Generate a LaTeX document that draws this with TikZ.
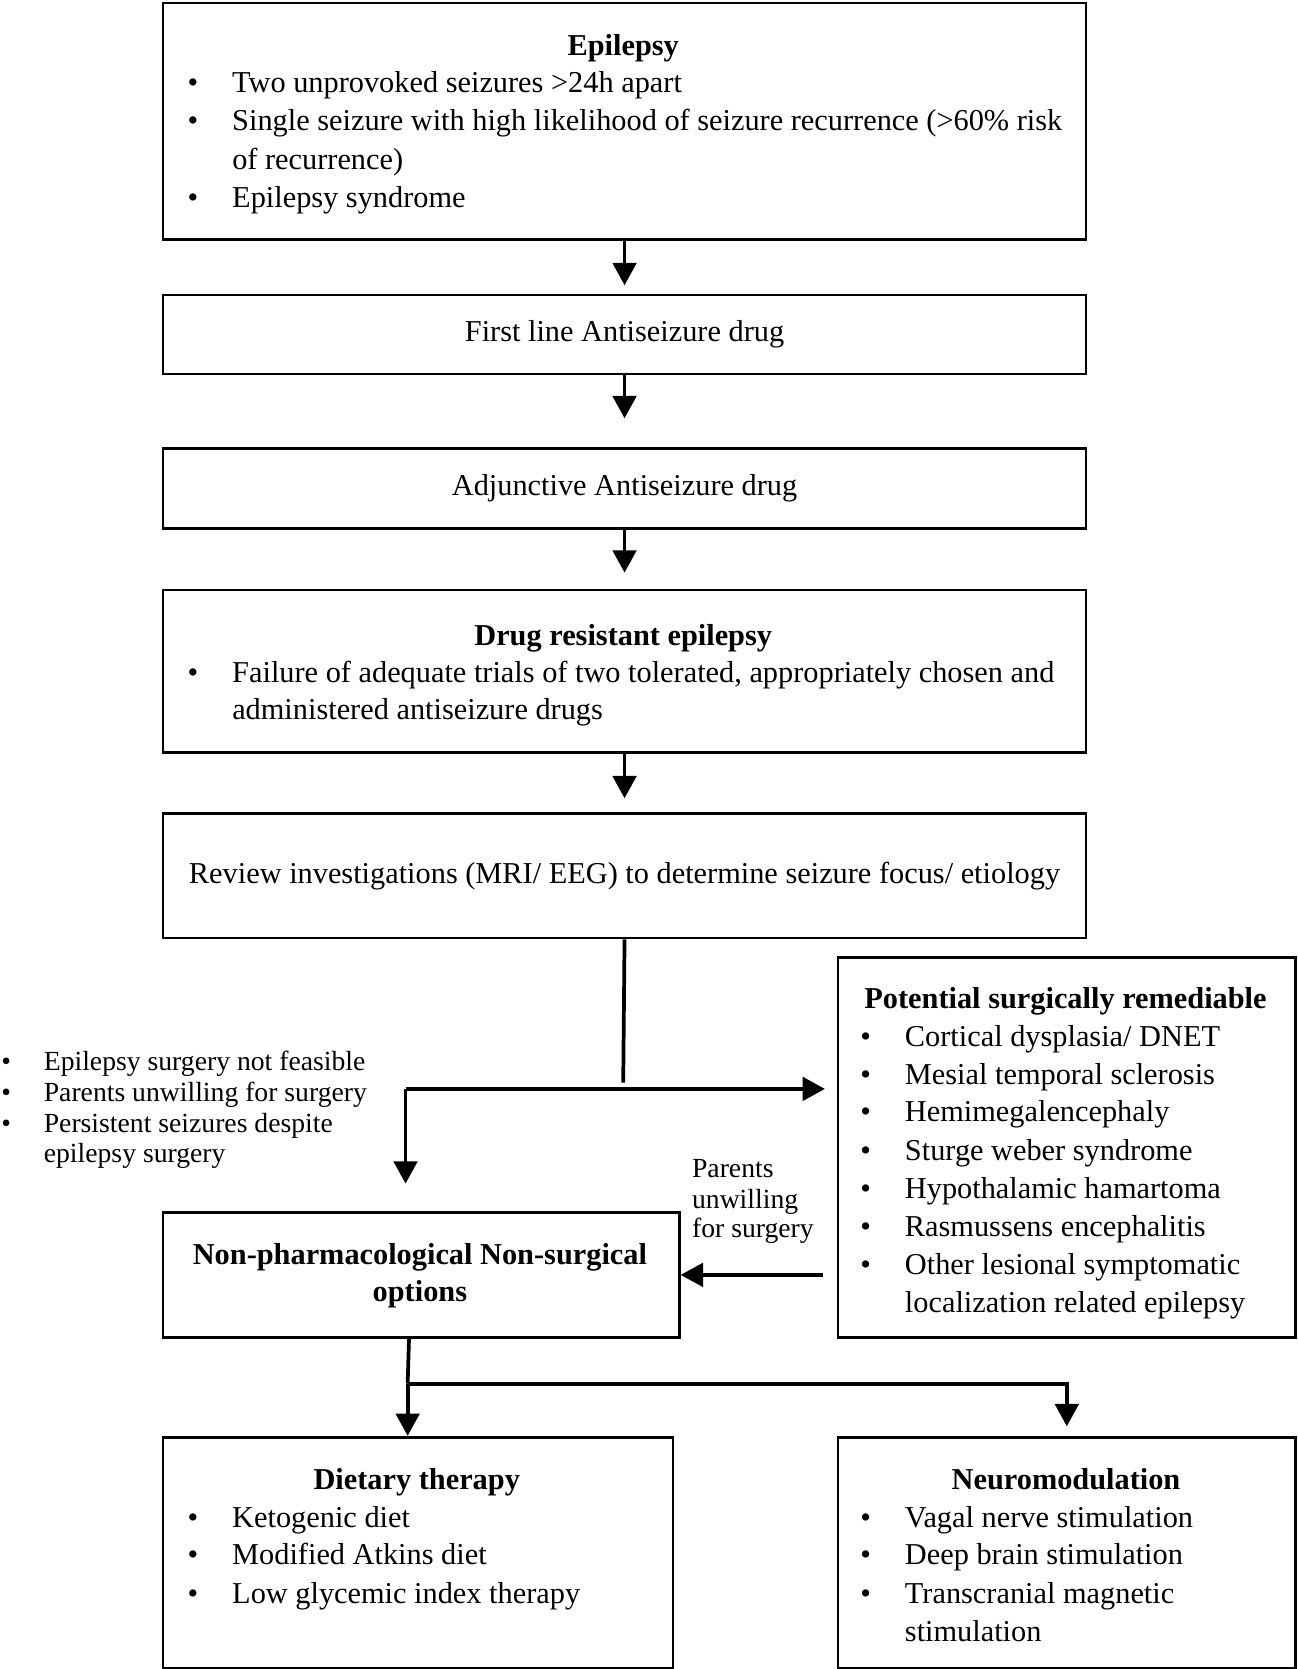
\documentclass[tikz,border=0pt]{standalone}
\usepackage{fontspec}
\setmainfont{Liberation Serif}
\usetikzlibrary{arrows.meta}
\newcommand{\mybul}[1]{\makebox[#1][l]{•}}
\begin{document}
\begin{tikzpicture}[x=1pt,y=-1pt,
  box/.style={draw, line width=2.5pt, inner sep=0pt, anchor=north west},
  arr/.style={line width=3.5pt, line join=miter, -{Triangle[length=21pt,width=22pt]}},
  ln/.style={line width=3.5pt},
  tx/.style={anchor=base west, inner sep=0pt, font=\fontsize{28.5}{33}\selectfont},
  ctx/.style={anchor=center, inner sep=0pt, font=\fontsize{28.5}{33}\selectfont},
  ttl/.style={anchor=base, inner sep=0pt, font=\fontsize{28.5}{33}\selectfont\bfseries},
  sm/.style={anchor=base west, inner sep=0pt, font=\fontsize{26}{30}\selectfont},
]
\useasboundingbox (0,0) rectangle (1219,1568);

% boxes
\node[box, minimum width=867pt, minimum height=222.5pt] (ep) at (152,1.5) {};
\node[box, minimum width=867pt, minimum height=74pt] (fl) at (152,276) {};
\node[box, minimum width=867pt, minimum height=75pt] (adj) at (152,420) {};
\node[box, minimum width=867pt, minimum height=153pt] (dre) at (152,553) {};
\node[box, minimum width=867pt, minimum height=117pt] (rev) at (152,763) {};
\node[box, minimum width=430pt, minimum height=357pt] (psr) at (786,898) {};
\node[box, minimum width=485pt, minimum height=117pt] (npns) at (152,1138) {};
\node[box, minimum width=479pt, minimum height=217pt] (diet) at (152,1349) {};
\node[box, minimum width=430pt, minimum height=217pt] (neu) at (786,1349) {};

% Epilepsy
\node[ttl] (ept) at (585.5,52) {Epilepsy};
\node[tx] (ep1) at (176,87) {\mybul{42pt}Two unprovoked seizures >24h apart};
\node[tx] (ep2) at (176,123) {\mybul{42pt}Single seizure with high likelihood of seizure recurrence (>60\% risk};
\node[tx] (ep3) at (218,159) {of recurrence)};
\node[tx] (ep4) at (176,195) {\mybul{42pt}Epilepsy syndrome};

% single line boxes
\node[ctx] (flt) at (fl.center) {First line Antiseizure drug};
\node[ctx] (adjt) at (adj.center) {Adjunctive Antiseizure drug};
\node[ctx] (revt) at (rev.center) {Review investigations (MRI/ EEG) to determine seizure focus/ etiology};

% Drug resistant
\node[ttl] (dret) at (585.5,606) {Drug resistant epilepsy};
\node[tx] (dre1) at (176,641) {\mybul{42pt}Failure of adequate trials of two tolerated, appropriately chosen and};
\node[tx] (dre2) at (218,676) {administered antiseizure drugs};

% Potential surgically remediable
\node[ttl] (psrt) at (1001,947) {Potential surgically remediable};
\node[tx] (psr1) at (808,983) {\mybul{42pt}Cortical dysplasia/ DNET};
\node[tx] (psr2) at (808,1019) {\mybul{42pt}Mesial temporal sclerosis};
\node[tx] (psr3) at (808,1054) {\mybul{42pt}Hemimegalencephaly};
\node[tx] (psr4) at (808,1090) {\mybul{42pt}Sturge weber syndrome};
\node[tx] (psr5) at (808,1126) {\mybul{42pt}Hypothalamic hamartoma};
\node[tx] (psr6) at (808,1162) {\mybul{42pt}Rasmussens encephalitis};
\node[tx] (psr7) at (808,1197) {\mybul{42pt}Other lesional symptomatic};
\node[tx] (psr8) at (850,1233) {localization related epilepsy};

% left list
\node[sm] (lf1) at (1,1006) {\mybul{40pt}Epilepsy surgery not feasible};
\node[sm] (lf2) at (1,1035) {\mybul{40pt}Parents unwilling for surgery};
\node[sm] (lf3) at (1,1064) {\mybul{40pt}Persistent seizures despite};
\node[sm] (lf4) at (41,1092) {epilepsy surgery};

% label
\node[sm] (pu1) at (650,1106) {Parents};
\node[sm] (pu2) at (650,1135) {unwilling};
\node[sm] (pu3) at (650,1163) {for surgery};

% NPNS
\node[ttl] (npt1) at (394.5,1188) {Non-pharmacological Non-surgical};
\node[ttl] (npt2) at (394.5,1223) {options};

% Dietary
\node[ttl] (dtt) at (391.5,1399) {Dietary therapy};
\node[tx] (dt1) at (176,1435) {\mybul{42pt}Ketogenic diet};
\node[tx] (dt2) at (176,1470) {\mybul{42pt}Modified Atkins diet};
\node[tx] (dt3) at (176,1506) {\mybul{42pt}Low glycemic index therapy};

% Neuromodulation
\node[ttl] (nmt) at (1001.5,1399) {Neuromodulation};
\node[tx] (nm1) at (808,1435) {\mybul{42pt}Vagal nerve stimulation};
\node[tx] (nm2) at (808,1470) {\mybul{42pt}Deep brain stimulation};
\node[tx] (nm3) at (808,1506) {\mybul{42pt}Transcranial magnetic};
\node[tx] (nm4) at (850,1542) {stimulation};

% connectors
\draw[arr, shorten >=8pt] (ep.south) -- (fl.north);
\draw[arr, shorten >=27pt] (fl.south) -- (adj.north);
\draw[arr, shorten >=15pt] (adj.south) -- (dre.north);
\draw[arr, shorten >=13pt] (dre.south) -- (rev.north);

\coordinate (jtop) at (585.5,1017);
\coordinate (jl) at (381,1023);
\draw[ln] (rev.south) -- (jtop);
\draw[arr, shorten >=11pt] (jl) -- (jl -| psr.west);
\draw[arr, shorten >=26pt] (jl) -- (jl |- npns.north);

\draw[arr, shorten <=13pt] (psr.west |- npns.east) -- (npns.east);

\coordinate (bj) at (383,1300);
\draw[ln] ([xshift=-11.5pt]npns.south) -- (bj);
\draw[arr] (bj) -- (bj |- diet.north);
\draw[arr, shorten >=9pt] (bj) -| (neu.north);
\end{tikzpicture}
\end{document}
